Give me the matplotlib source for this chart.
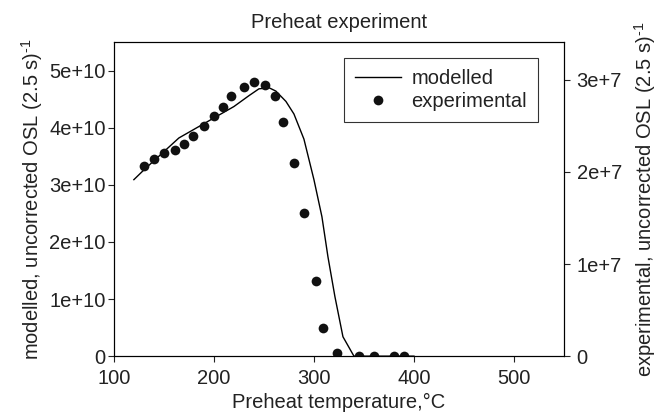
import numpy as np
import matplotlib
matplotlib.use('Agg')
import matplotlib.pyplot as plt
from matplotlib.ticker import FuncFormatter

plt.rcParams['font.family'] = ['Liberation Sans', 'DejaVu Sans']
plt.rcParams['mathtext.fontset'] = 'custom'
plt.rcParams['mathtext.rm'] = 'Liberation Sans'
plt.rcParams['mathtext.default'] = 'regular'

# modelled OSL (left axis)
model_temp = [120, 130, 150, 165, 185, 200, 220, 235, 245, 255, 262, 272, 280,
              290, 300, 308, 314, 321, 329, 340, 360, 380, 400]
model_osl = [3.09e10, 3.26e10, 3.58e10, 3.82e10, 4.02e10, 4.17e10, 4.37e10, 4.56e10,
             4.68e10, 4.70e10, 4.64e10, 4.46e10, 4.24e10, 3.80e10, 3.09e10, 2.44e10,
             1.74e10, 1.04e10, 0.34e10, 0.0, 0.0, 0.0, 0.0]

# experimental OSL (right axis)
exp_temp = [130, 140, 150, 161, 170, 179, 190, 200, 209, 217, 230, 240, 251, 261,
            269, 280, 290, 302, 309, 323, 345, 360, 380, 390]
exp_osl = [2.06e7, 2.14e7, 2.20e7, 2.24e7, 2.30e7, 2.39e7, 2.50e7, 2.61e7, 2.70e7,
           2.82e7, 2.92e7, 2.98e7, 2.94e7, 2.82e7, 2.54e7, 2.10e7, 1.55e7, 0.82e7,
           0.31e7, 0.03e7, 0.0, 0.0, 0.0, 0.0]


def sci_fmt(v, pos):
    if v == 0:
        return '0'
    exp = int(np.floor(np.log10(abs(v))))
    mant = v / 10 ** exp
    return '%de+%d' % (round(mant), exp)


fs = 14.5
txt = '#222222'

fig, ax = plt.subplots(figsize=(6.62, 4.2), dpi=100)
fig.subplots_adjust(left=0.172, right=0.852, top=0.9, bottom=0.152)
ax2 = ax.twinx()

line, = ax.plot(model_temp, model_osl, color='black', lw=1.0, label='modelled')
pts, = ax2.plot(exp_temp, exp_osl, 'o', color='#111111', ms=7, mec='none',
                label='experimental')

ax.set_xlim(100, 550)
ax.set_ylim(0, 5.5e10)
ax2.set_ylim(0, 3.41e7)
ax.set_xticks([100, 200, 300, 400, 500])
ax.set_yticks([0, 1e10, 2e10, 3e10, 4e10, 5e10])
ax2.set_yticks([0, 1e7, 2e7, 3e7])
ax.yaxis.set_major_formatter(FuncFormatter(sci_fmt))
ax2.yaxis.set_major_formatter(FuncFormatter(sci_fmt))

for a in (ax, ax2):
    a.tick_params(labelsize=fs, direction='out', length=4, width=0.8, pad=2,
                  colors=txt, labelcolor=txt)
    for s in a.spines.values():
        s.set_linewidth(0.8)
ax.tick_params(axis='x', pad=5)
ax2.tick_params(axis='y', pad=5)

ax.set_title('Preheat experiment', fontsize=fs, pad=10, color=txt)
ax.set_xlabel('Preheat temperature,°C', fontsize=fs, labelpad=4, color=txt)
ax.set_ylabel('modelled, uncorrected OSL (2.5 s)$^{\\text{-}1}$', fontsize=fs,
              labelpad=3, color=txt)
ax2.set_ylabel('experimental, uncorrected OSL (2.5 s)$^{\\text{-}1}$', fontsize=fs,
               labelpad=7, color=txt)

leg = ax.legend([line, pts], ['modelled', 'experimental'], loc='upper right',
                bbox_to_anchor=(0.942, 0.949), borderaxespad=0, fontsize=fs,
                frameon=True, fancybox=False, edgecolor='black', handlelength=2.3,
                handletextpad=0.5, borderpad=0.55, labelspacing=0.2)
leg.get_frame().set_linewidth(0.8)
for t in leg.get_texts():
    t.set_color(txt)

fig.savefig('out.png', dpi=100)
